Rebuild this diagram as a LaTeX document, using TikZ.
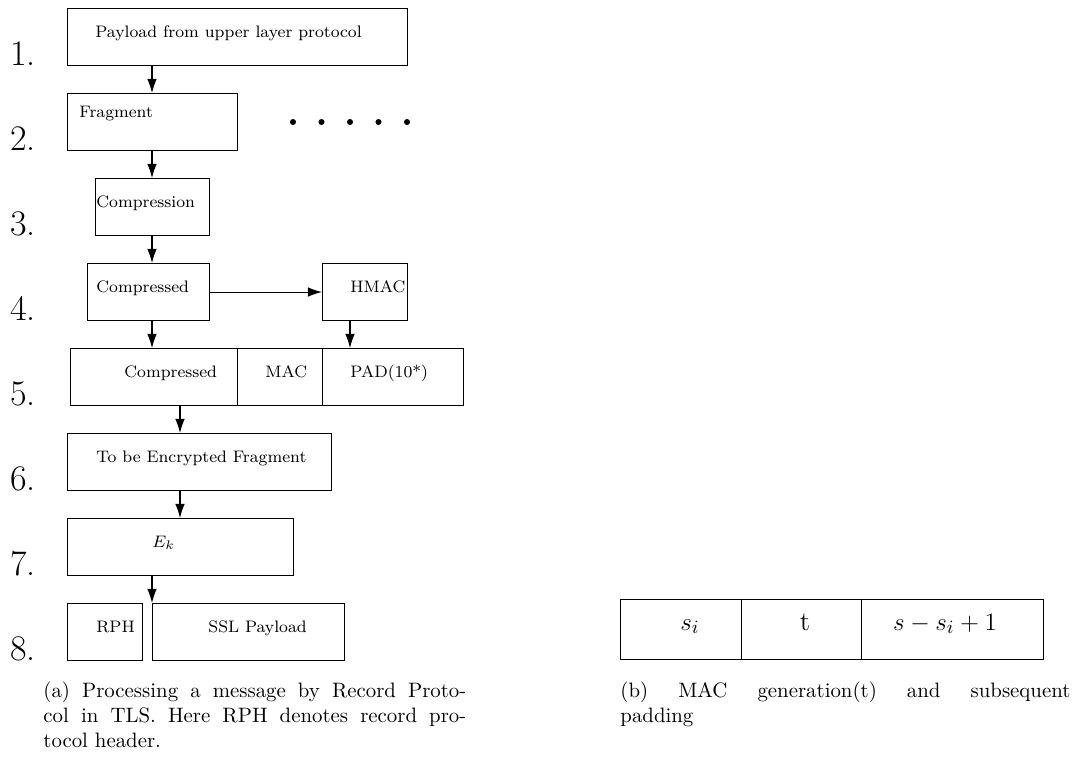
\documentclass[tikz,border=0pt]{standalone}
\usetikzlibrary{arrows.meta}
\begin{document}
\begin{tikzpicture}[x=0.48pt,y=-0.48pt,
  rbox/.style 2 args={draw, line width=0.5pt, inner sep=0pt, anchor=north west,
    minimum width={#1*0.48pt}, minimum height={#2*0.48pt}},
  txt/.style={inner sep=0pt, anchor=base west, font=\footnotesize},
  num/.style={inner sep=0pt, anchor=base west, font=\LARGE},
  cell/.style={inner sep=0pt, anchor=base, font=\fontsize{13}{15}\selectfont},
  arr/.style={-{Latex[length=6.8pt,width=4.6pt]}, line width=0.5pt},
  captext/.style={inner sep=0pt, anchor=north west, align=justify, font=\normalsize}]
\useasboundingbox (0,0) rectangle (1077,758);

% (a) record protocol pipeline: boxes
\node[rbox={340}{57}] (b1)  at (67,8)   {};
\node[rbox={170}{57}] (b2)  at (67,93)  {};
\node[rbox={114}{57}] (b3)  at (95,178) {};
\node[rbox={122}{57}] (b4)  at (87,263) {};
\node[rbox={85}{57}]  (hm)  at (322,263) {};
\node[rbox={167}{57}] (b5a) at (70,348) {};
\node[rbox={85}{57}]  (b5b) at (237,348) {};
\node[rbox={141}{57}] (b5c) at (322,348) {};
\node[rbox={264}{57}] (b6)  at (67,433) {};
\node[rbox={226}{57}] (b7)  at (67,518) {};
\node[rbox={75}{57}]  (rph) at (67,603) {};
\node[rbox={192}{57}] (ssl) at (152,603) {};

% box labels
\node[txt] (t1)  at (95,37)   {Payload from upper layer protocol};
\node[txt] (t2)  at (79,117)  {Fragment};
\node[txt] (t3)  at (96,207)  {Compression};
\node[txt] (t4)  at (96,292)  {Compressed};
\node[txt] (thm) at (350,292) {HMAC};
\node[txt] (t5a) at (124,377) {Compressed};
\node[txt] (t5b) at (265,377) {MAC};
\node[txt] (t5c) at (350,377) {PAD(10*)};
\node[txt] (t6)  at (96,462)  {To be Encrypted Fragment};
\node[txt] (t7)  at (152,547) {$E_k$};
\node[txt] (t8a) at (96,632)  {RPH};
\node[txt] (t8b) at (208,632) {SSL Payload};

% step numbers
\foreach \i/\y in {1/65,2/150,3/235,4/320,5/405,6/490,7/575,8/660}
  \node[num] (n\i) at (10,\y) {\i.};

% continuation dots
\foreach \x in {293,321.5,350,378.5,407}
  \fill (\x,122) circle[radius=1.45pt];

% arrow columns
\coordinate (xa) at (152,0);
\coordinate (xb) at (180,0);
\coordinate (xc) at (350,0);

\draw[arr] (b1.south -| xa) -- (b2.north -| xa);
\draw[arr] (b2.south -| xa) -- (b3.north -| xa);
\draw[arr] (b3.south -| xa) -- (b4.north -| xa);
\draw[arr] (b4.east) -- (hm.west);
\draw[arr] (b4.south -| xa) -- (b5a.north -| xa);
\draw[arr] (hm.south -| xc) -- (b5c.north -| xc);
\draw[arr] (b5a.south -| xb) -- (b6.north -| xb);
\draw[arr] (b6.south -| xb) -- (b7.north -| xb);
\draw[arr] (b7.south -| xa) -- (ssl.north west);

% (b) MAC and padding layout
\node[rbox={121}{60}] (c1) at (620,599) {};
\node[rbox={120}{60}] (c2) at (741,599) {};
\node[rbox={182}{60}] (c3) at (861,599) {};
\node[cell] (s1) at (690,630) {$s_i$};
\node[cell] (s2) at (805,630) {t};
\node[cell] (s3) at (945,630) {$s-s_i+1$};

% captions
\node[captext, text width=203pt] (capa) at (43,681)
  {(a) Processing a message by Record Proto-\linebreak col in TLS. Here RPH denotes record pro-\linebreak tocol header.};
\node[captext, text width=216pt] (capb) at (620,681)
  {(b) MAC generation(t) and subsequent\linebreak padding};
\end{tikzpicture}
\end{document}
